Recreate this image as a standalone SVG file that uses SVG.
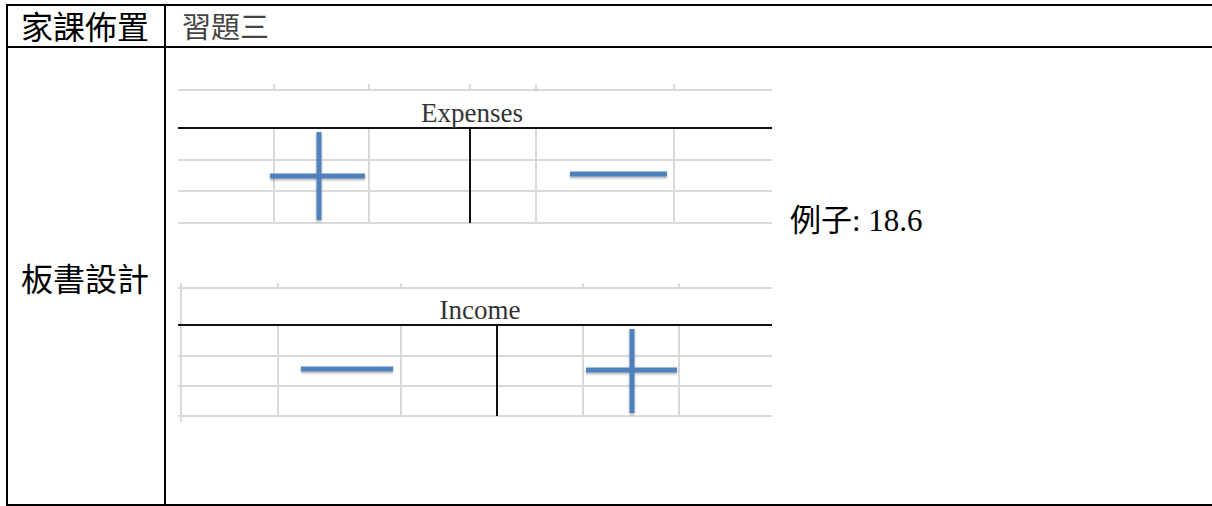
<svg xmlns="http://www.w3.org/2000/svg" width="1212" height="506" viewBox="0 0 1212 506">
<style>
.border{stroke:#000;stroke-width:2;fill:none}
.hd{font-family:"Noto Sans CJK TC","Noto Sans CJK SC",sans-serif;font-size:32px;fill:#000}
.hd2{font-family:"Liberation Serif","Noto Sans CJK TC",serif;font-size:29px;fill:#444}
.grid{stroke:#d9d9d9;stroke-width:2;fill:none}
.blk{stroke:#111;stroke-width:2;fill:none}
.sign{stroke:#4f81bd;stroke-width:5;stroke-linecap:butt;fill:none;filter:url(#sh)}
.ttl{font-family:"Liberation Serif",serif;font-size:27px;fill:#333;text-anchor:middle}
.ex{font-family:"Liberation Serif","Noto Sans CJK TC",serif;font-size:31px;fill:#000}
</style>
<defs>
<filter id="sh" filterUnits="userSpaceOnUse" x="0" y="0" width="1212" height="506">
<feDropShadow dx="0" dy="1.5" stdDeviation="1.2" flood-color="#000" flood-opacity="0.35"/>
</filter>
</defs>
<g id="table">
<rect class="border" x="7" y="5" width="1206" height="500"/>
<line class="border" x1="7" y1="47" x2="1212" y2="47"/>
<line class="border" x1="165" y1="5" x2="165" y2="505"/>
</g>
<g id="header-label"><text class="hd" x="21" y="39">家課佈置</text></g>
<g id="header-value"><text class="hd2" x="182" y="38">習題三</text></g>
<g id="board-label"><text class="hd" x="21" y="291">板書設計</text></g>
<g id="expenses">
<path class="grid" d="M178 90H772M274 84V90M369 84V90M470 84V90M536 84V90M674 84V90"/>
<path class="grid" d="M178 160H772M178 191H772M178 223H772M274 128V223M369 128V223M536 128V223M674 128V223"/>
<line class="blk" x1="178" y1="128" x2="772" y2="128"/>
<line class="blk" x1="470" y1="128" x2="470" y2="223"/>
<text class="ttl" x="472" y="122">Expenses</text>
<path class="sign" d="M319 132V220M270 176H365"/>
<path class="sign" d="M570 174H667"/>
</g>
<g id="income">
<path class="grid" d="M178 288H772M181 283V422M278 283V288M401 283V288M583 283V288M679 283V288"/>
<path class="grid" d="M178 356H772M178 386H772M178 416H772M278 325V416M401 325V416M583 325V416M679 325V416"/>
<line class="blk" x1="178" y1="325" x2="772" y2="325"/>
<line class="blk" x1="497" y1="325" x2="497" y2="416"/>
<text class="ttl" x="480" y="319">Income</text>
<path class="sign" d="M301 369H393"/>
<path class="sign" d="M632 329V413M586 370H677"/>
</g>
<g id="example"><text class="ex" x="790" y="231">例子: 18.6</text></g>
</svg>
